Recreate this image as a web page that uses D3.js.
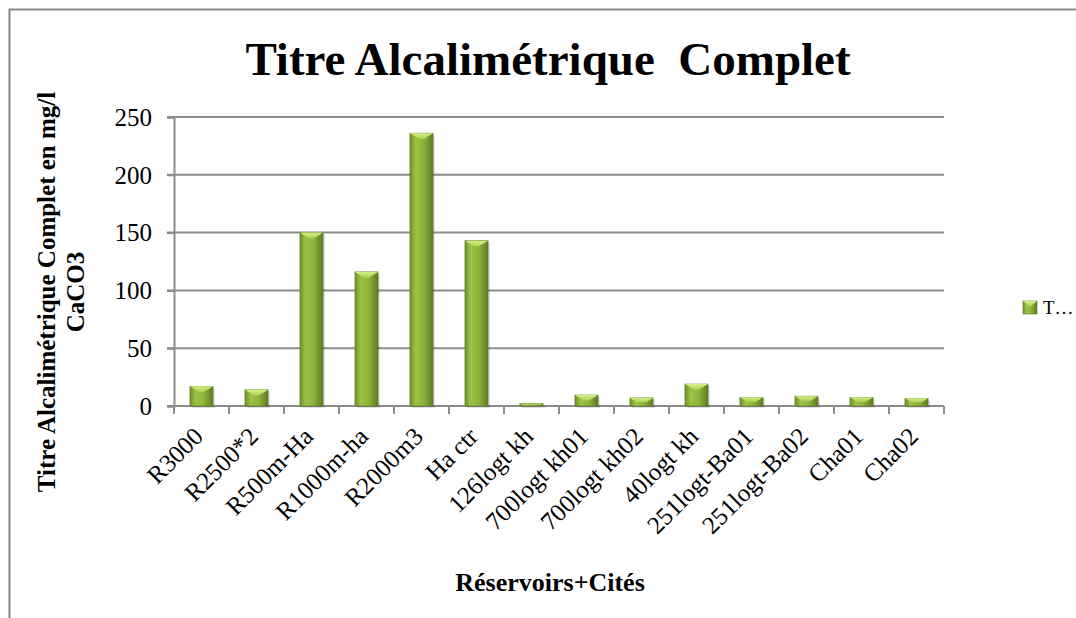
<!DOCTYPE html>
<html>
<head>
<meta charset="utf-8">
<script src="https://cdn.jsdelivr.net/npm/d3@7"></script>
<style>
  body { margin: 0; background: #fff; }
  svg text { font-family: "Liberation Serif", "Times New Roman", serif; fill: #000; white-space: pre; }
</style>
</head>
<body>
<div id="chart"></div>
<script>
// data
var categories = ["R3000", "R2500*2", "R500m-Ha", "R1000m-ha", "R2000m3", "Ha ctr",
  "126logt kh", "700logt kh01", "700logt kh02", "40logt kh", "251logt-Ba01",
  "251logt-Ba02", "Cha01", "Cha02"];
var values = [17, 14, 150, 116, 236, 143, 2, 9.5, 7, 19, 7.5, 8.5, 7.5, 6.7];
var yTicks = [0, 50, 100, 150, 200, 250];
var seriesName = "TAC";

var W = 1076, H = 618;
var margin = { top: 117, right: 132, bottom: 212, left: 174 },
  width = W - margin.left - margin.right,
  height = H - margin.top - margin.bottom;

var svg = d3.select("#chart")
  .append("svg")
  .attr("width", W)
  .attr("height", H);

// gradients for the bevelled bars
var defs = svg.append("defs");
var g1 = defs.append("linearGradient").attr("id", "barGrad")
  .attr("x1", "0").attr("x2", "1").attr("y1", "0").attr("y2", "0");
g1.append("stop").attr("offset", "0%").attr("stop-color", "#6f8f2c");
g1.append("stop").attr("offset", "25%").attr("stop-color", "#9bc445");
g1.append("stop").attr("offset", "60%").attr("stop-color", "#8db33a");
g1.append("stop").attr("offset", "100%").attr("stop-color", "#5d7a22");
var g2 = defs.append("linearGradient").attr("id", "topGrad")
  .attr("x1", "0").attr("x2", "0").attr("y1", "0").attr("y2", "1");
g2.append("stop").attr("offset", "0%").attr("stop-color", "#d6ef8a");
g2.append("stop").attr("offset", "100%").attr("stop-color", "#a9d24e");

// outer frame
svg.append("rect")
  .attr("x", 9.5).attr("y", 9.5)
  .attr("width", W + 20).attr("height", H + 20)
  .attr("fill", "none")
  .attr("stroke", "#868686")
  .attr("stroke-width", 2);

var plot = svg.append("g")
  .attr("transform", "translate(" + margin.left + "," + margin.top + ")");

var x = d3.scaleBand()
  .domain(categories)
  .range([0, width])
  .paddingInner(0.58)
  .paddingOuter(0.29);

var y = d3.scaleLinear()
  .domain([0, 250])
  .range([height, 0]);

// gridlines
plot.append("g")
  .selectAll("line")
  .data(yTicks)
  .enter()
  .append("line")
  .attr("x1", -7).attr("x2", width)
  .attr("y1", function (d) { return y(d); })
  .attr("y2", function (d) { return y(d); })
  .attr("stroke", "#8c8c8c")
  .attr("stroke-width", 2);

// y axis
var yAxis = plot.append("g")
  .call(d3.axisLeft(y).tickValues(yTicks).tickSize(7).tickPadding(15));
yAxis.select(".domain").attr("stroke", "#8c8c8c").attr("stroke-width", 2);
yAxis.selectAll(".tick line").attr("stroke", "#8c8c8c").attr("stroke-width", 2);
yAxis.selectAll("text")
  .style("font-size", "25px")
  .style("font-family", "Liberation Serif, serif")
  .attr("dy", "0.33em");

// x axis with ticks between categories
var xAxis = plot.append("g")
  .attr("transform", "translate(0," + height + ")");
xAxis.append("line")
  .attr("x1", 0).attr("x2", width)
  .attr("y1", 0).attr("y2", 0)
  .attr("stroke", "#8c8c8c").attr("stroke-width", 2);
var step = x.step();
xAxis.selectAll(".xt")
  .data(d3.range(categories.length + 1))
  .enter()
  .append("line")
  .attr("class", "xt")
  .attr("x1", function (i) { return i * step; })
  .attr("x2", function (i) { return i * step; })
  .attr("y1", 0).attr("y2", 8)
  .attr("stroke", "#8c8c8c").attr("stroke-width", 2);

xAxis.selectAll(".xl")
  .data(categories)
  .enter()
  .append("text")
  .attr("class", "xl")
  .attr("transform", function (d) {
    return "translate(" + (x(d) + x.bandwidth() / 2 + 3) + ",32) rotate(-45)";
  })
  .style("text-anchor", "end")
  .style("font-size", "25px")
  .text(function (d) { return d; });

// bars
var bars = plot.selectAll(".bar")
  .data(values)
  .enter()
  .append("g")
  .attr("class", "bar");

bars.append("rect")
  .attr("x", function (d, i) { return x(categories[i]) + 2; })
  .attr("y", function (d) { return y(d) + 2; })
  .attr("width", x.bandwidth())
  .attr("height", function (d) { return height - y(d); })
  .attr("fill", "#000")
  .attr("opacity", 0.12);

bars.append("rect")
  .attr("x", function (d, i) { return x(categories[i]); })
  .attr("y", function (d) { return y(d); })
  .attr("width", x.bandwidth())
  .attr("height", function (d) { return height - y(d); })
  .attr("fill", "url(#barGrad)")
  .attr("stroke", "#5b7420")
  .attr("stroke-width", 0.6);

// bevel at the top of each bar
bars.append("path")
  .attr("d", function (d, i) {
    var x0 = x(categories[i]), w = x.bandwidth(), y0 = y(d);
    var h = Math.min(w / 2, height - y0);
    return "M" + x0 + "," + y0 + "L" + (x0 + w) + "," + y0 +
      "L" + (x0 + w - h * 0.8) + "," + (y0 + h * 0.5) +
      "L" + (x0 + h * 0.8) + "," + (y0 + h * 0.5) + "Z";
  })
  .attr("fill", "url(#topGrad)");

// title
svg.append("text")
  .attr("x", 548).attr("y", 75)
  .style("text-anchor", "middle")
  .style("font-size", "47px")
  .style("font-weight", "bold")
  .text("Titre Alcalimétrique  Complet");

// x axis title
svg.append("text")
  .attr("x", 550).attr("y", 591)
  .style("text-anchor", "middle")
  .style("font-size", "26px")
  .style("font-weight", "bold")
  .text("Réservoirs+Cités");

// y axis title (two lines)
var yt = svg.append("text")
  .attr("transform", "translate(55,292) rotate(-90)")
  .style("text-anchor", "middle")
  .style("font-size", "25px")
  .style("font-weight", "bold");
yt.append("tspan").attr("x", 0).attr("y", 0).text("Titre Alcalimétrique Complet en mg/l");
yt.append("tspan").attr("x", 0).attr("y", 29).text("CaCO3");

// legend
var legend = svg.append("g").attr("transform", "translate(1023,301)");
legend.append("rect")
  .attr("width", 14).attr("height", 13)
  .attr("fill", "url(#barGrad)")
  .attr("stroke", "#5b7420").attr("stroke-width", 0.6);
legend.append("path")
  .attr("d", "M0,0L14,0L7,6Z")
  .attr("fill", "url(#topGrad)");
legend.append("text")
  .attr("x", 20).attr("y", 13)
  .style("font-size", "19px")
  .text(seriesName.slice(0, 1) + "…");
</script>
</body>
</html>
